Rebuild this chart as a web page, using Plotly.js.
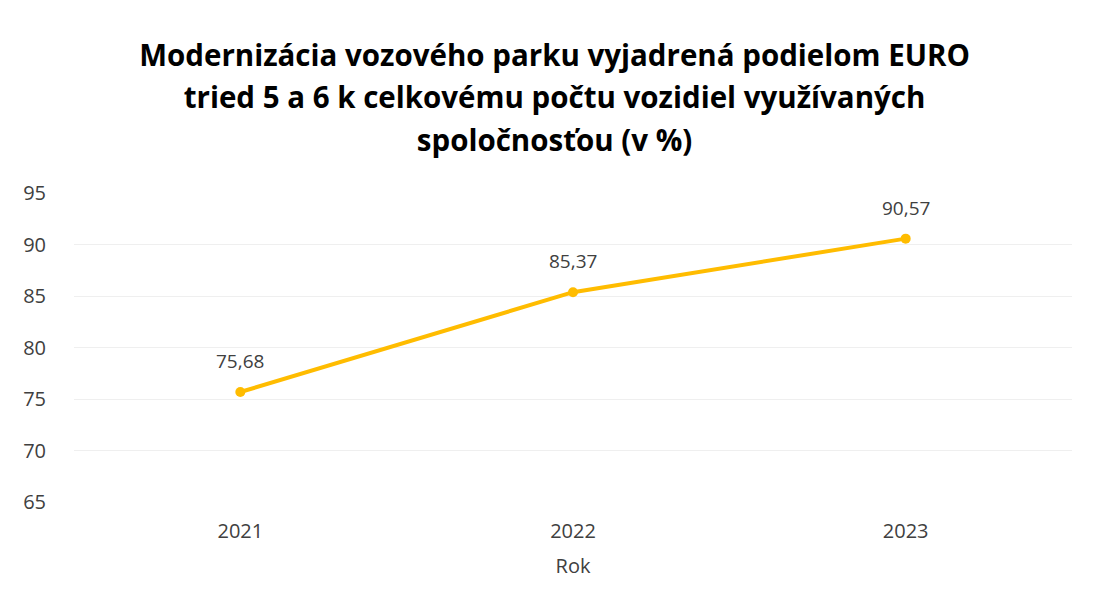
<!DOCTYPE html>
<html>
<head>
<meta charset="utf-8">
<script src="https://cdn.plot.ly/plotly-3.0.1.min.js"></script>
<style>html,body{margin:0;padding:0;background:#fff;}#chart{width:1096px;height:607px;}</style>
</head>
<body>
<div id="chart"></div>
<script>
const years = ['2021', '2022', '2023'];
const shares = [75.68, 85.37, 90.57];
const shareLabels = ['75,68', '85,37', '90,57'];
const yTicks = [65, 70, 75, 80, 85, 90, 95];

const titleLines = [
  'Modernizácia vozového parku vyjadrená podielom EURO',
  'tried 5 a 6 k celkovému počtu vozidiel využívaných',
  'spoločnosťou (v %)'
];

const FONT = 'Open Sans, Liberation Sans, sans-serif';

const trace = {
  x: years,
  y: shares,
  type: 'scatter',
  mode: 'lines+markers',
  line: {color: '#FFBC00', width: 4},
  marker: {color: '#FFBC00', size: 10},
  cliponaxis: false,
  hoverinfo: 'x+y'
};

// category axis: annotation x given as the category index
const labelAnnotations = years.map((yr, i) => ({
  x: i,
  y: shares[i],
  xref: 'x',
  yref: 'y',
  text: shareLabels[i],
  showarrow: false,
  yshift: 31,
  font: {family: FONT, size: 19, color: '#404040'}
}));

const layout = {
  width: 1096,
  height: 607,
  paper_bgcolor: '#ffffff',
  plot_bgcolor: '#ffffff',
  margin: {l: 74, r: 24, t: 193, b: 105},
  showlegend: false,
  font: {family: FONT, color: '#404040'},
  title: {
    text: titleLines.map(t => '<span style="font-size:29.5px">' + t + '</span>').join('<br>'),
    font: {family: FONT, size: 32.5, color: '#000000', weight: 700},
    x: 0.506,
    xanchor: 'center',
    y: 1 - 66 / 607,
    yanchor: 'top',
    yref: 'container'
  },
  annotations: labelAnnotations,
  xaxis: {
    type: 'category',
    range: [-0.5, 2.5],
    showgrid: false,
    zeroline: false,
    showline: false,
    ticks: '',
    ticklabelstandoff: 15,
    tickfont: {family: FONT, size: 20, color: '#404040'},
    title: {text: 'Rok', font: {family: FONT, size: 20, color: '#404040'}, standoff: 15}
  },
  yaxis: {
    range: [65, 95],
    tickvals: yTicks,
    ticktext: yTicks.map(String),
    showgrid: true,
    gridcolor: '#efefef',
    gridwidth: 1,
    zeroline: false,
    showline: false,
    ticks: '',
    ticklabelstandoff: 27,
    tickfont: {family: FONT, size: 20, color: '#404040'}
  }
};

Plotly.newPlot('chart', [trace], layout, {displayModeBar: false, staticPlot: true});
</script>
</body>
</html>
